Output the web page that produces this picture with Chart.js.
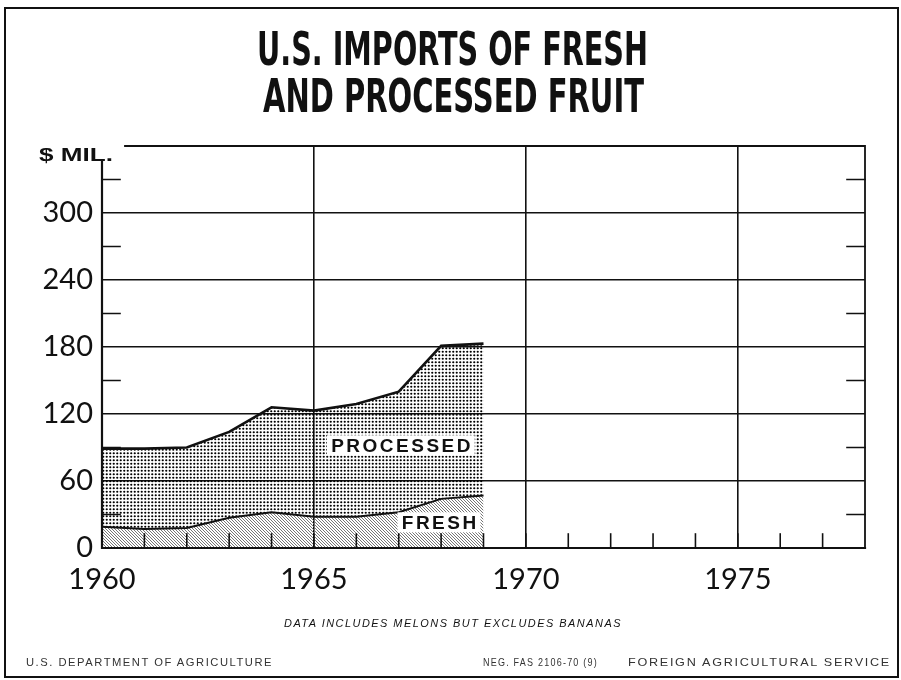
<!DOCTYPE html>
<html>
<head>
<meta charset="utf-8">
<title>U.S. Imports of Fresh and Processed Fruit</title>
<script src="https://cdn.jsdelivr.net/npm/chart.js@4"></script>
<style>
  html, body { margin: 0; padding: 0; background: #fff; }
  #page { position: relative; width: 901px; height: 680px; overflow: hidden; background: #fff; }
  #frame { position: absolute; left: 4px; top: 7px; width: 891px; height: 667px; border: 2px solid #111; }
  #chart { position: absolute; left: 0; top: 0; }
  .txt { position: absolute; white-space: nowrap; color: #111; transform-origin: 0 0; line-height: 1; }
  .title { font-family: "DejaVu Sans", sans-serif; font-weight: 700; font-size: 46px; }
  .unit { font-family: "Liberation Sans", sans-serif; font-weight: 700; font-size: 18px; }
  .note { font-family: "Liberation Sans", sans-serif; font-style: italic; font-size: 11px; letter-spacing: 1.5px; }
  .foot { font-family: "Liberation Sans", sans-serif; font-size: 11px; letter-spacing: 1.5px; color: #333; }
</style>
</head>
<body>
<div id="page">
  <canvas id="chart" width="901" height="680"></canvas>
  <div id="frame"></div>
  <div class="txt title" data-w="391" style="left:257px; top:26px;">U.S. IMPORTS OF FRESH</div>
  <div class="txt title" data-w="381" style="left:263px; top:73px;">AND PROCESSED FRUIT</div>
  <div class="txt unit" data-w="74" style="left:39px; top:146px;">$ MIL.</div>
  <div class="txt note" data-w="338" style="left:284px; top:618px;">DATA INCLUDES MELONS BUT EXCLUDES BANANAS</div>
  <div class="txt foot" data-w="247" style="left:26px; top:657px;">U.S. DEPARTMENT OF AGRICULTURE</div>
  <div class="txt foot" data-w="115" style="left:483px; top:657px;">NEG. FAS 2106-70 (9)</div>
  <div class="txt foot" data-w="263" style="left:628px; top:657px;">FOREIGN AGRICULTURAL SERVICE</div>
</div>
<script>
'use strict';

// $ million, stacked: fresh at the bottom, processed on top
const years = [1960, 1961, 1962, 1963, 1964, 1965, 1966, 1967, 1968, 1969];
const fresh = [19, 17, 18, 27, 32, 28, 28, 32, 44, 47];
const processed = [70, 72, 72, 77, 94, 95, 101, 108, 137, 136];

const yearLabels = [1960, 1965, 1970, 1975];
const valueLabels = [0, 60, 120, 180, 240, 300];
const X_MIN = 1960;
const X_MAX = 1978;
const Y_MAX = 360;
const AXIS_TOP = 347;

const INK = '#111';

function dotPattern() {
  const c = document.createElement('canvas');
  c.width = 7; c.height = 7;
  const g = c.getContext('2d');
  g.fillStyle = '#000';
  [[1.75, 1.75], [5.25, 1.75], [1.75, 5.25], [5.25, 5.25]].forEach(([cx, cy]) => {
    g.beginPath();
    g.arc(cx, cy, 1.1, 0, Math.PI * 2);
    g.fill();
  });
  return g.createPattern(c, 'repeat');
}

function hatchPattern() {
  const c = document.createElement('canvas');
  c.width = 3; c.height = 3;
  const g = c.getContext('2d');
  g.strokeStyle = '#666';
  g.lineWidth = 0.9;
  [-3, 0, 3].forEach(off => {
    g.beginPath();
    g.moveTo(off - 1, -1);
    g.lineTo(off + 4, 4);
    g.stroke();
  });
  return g.createPattern(c, 'repeat');
}

function points(values) {
  return years.map((year, i) => ({ x: year, y: values[i] }));
}

// axis lines, border and the short inward tick marks
const frameLines = {
  id: 'frameLines',
  afterDatasetsDraw(chart) {
    const { ctx, chartArea: a, scales: { x, y } } = chart;
    ctx.save();
    ctx.strokeStyle = INK;
    ctx.lineCap = 'square';

    ctx.lineWidth = 2.2;
    ctx.beginPath();
    ctx.moveTo(a.left, y.getPixelForValue(AXIS_TOP));
    ctx.lineTo(a.left, a.bottom);
    ctx.lineTo(a.right, a.bottom);
    ctx.stroke();

    ctx.lineWidth = 1.8;
    ctx.beginPath();
    ctx.moveTo(a.left + 23, a.top);
    ctx.lineTo(a.right, a.top);
    ctx.lineTo(a.right, a.bottom);
    ctx.stroke();

    // yearly ticks along the bottom
    ctx.lineWidth = 1.6;
    for (let yr = X_MIN + 1; yr < X_MAX; yr++) {
      const px = x.getPixelForValue(yr);
      ctx.beginPath();
      ctx.moveTo(px, a.bottom);
      ctx.lineTo(px, a.bottom - 14);
      ctx.stroke();
    }

    // half-step ticks on both sides
    for (let v = 30; v < Y_MAX; v += 60) {
      const py = y.getPixelForValue(v);
      ctx.beginPath();
      ctx.moveTo(a.left, py);
      ctx.lineTo(a.left + 18, py);
      ctx.moveTo(a.right, py);
      ctx.lineTo(a.right - 18, py);
      ctx.stroke();
    }
    ctx.restore();
  }
};

// series names written inside their bands
const bandLabels = {
  id: 'bandLabels',
  afterDraw(chart) {
    const { ctx, scales: { x, y } } = chart;
    const items = [
      { text: 'PROCESSED', xv: 1967.05, yv: 92 },
      { text: 'FRESH', xv: 1967.95, yv: 23 },
    ];
    ctx.save();
    ctx.font = 'bold 19px "Liberation Sans", sans-serif';
    ctx.letterSpacing = '2.5px';
    ctx.textAlign = 'center';
    ctx.textBaseline = 'middle';
    items.forEach(item => {
      const px = x.getPixelForValue(item.xv);
      const py = y.getPixelForValue(item.yv);
      const w = ctx.measureText(item.text).width;
      ctx.fillStyle = '#fff';
      ctx.fillRect(px - w / 2 - 3, py - 10, w + 6, 20);
      ctx.fillStyle = INK;
      ctx.fillText(item.text, px + 1.25, py + 1);
    });
    ctx.restore();
  }
};

function fitTexts() {
  document.querySelectorAll('.txt[data-w]').forEach(el => {
    const natural = el.getBoundingClientRect().width;
    el.style.transform = `scaleX(${Number(el.dataset.w) / natural})`;
  });
}

function drawChart() {
  const ctx = document.getElementById('chart').getContext('2d');
  const tickFont = { family: 'Lato, "Open Sans", sans-serif', size: 29 };
  new Chart(ctx, {
    type: 'line',
    data: {
      datasets: [
        {
          label: 'FRESH',
          data: points(fresh),
          fill: 'origin',
          backgroundColor: hatchPattern(),
          borderColor: INK,
          borderWidth: 2,
          pointRadius: 0,
          tension: 0,
        },
        {
          label: 'PROCESSED',
          data: points(processed),
          fill: '-1',
          backgroundColor: dotPattern(),
          borderColor: INK,
          borderWidth: 2.6,
          pointRadius: 0,
          tension: 0,
        },
      ],
    },
    options: {
      responsive: false,
      animation: false,
      events: [],
      layout: { padding: { left: 10, top: 146, right: 36, bottom: 0 } },
      plugins: { legend: { display: false }, tooltip: { enabled: false } },
      scales: {
        x: {
          type: 'linear',
          min: X_MIN,
          max: X_MAX,
          border: { display: false },
          grid: {
            drawTicks: false,
            lineWidth: 1.6,
            color: c => (yearLabels.includes(c.tick.value) && c.tick.value > X_MIN) ? INK : 'rgba(0,0,0,0)',
          },
          ticks: {
            stepSize: 1,
            autoSkip: false,
            maxRotation: 0,
            padding: 14,
            color: INK,
            font: tickFont,
            callback: v => yearLabels.includes(v) ? String(v) : '',
          },
          afterFit: scale => { scale.height = 132; },
        },
        y: {
          stacked: true,
          min: 0,
          max: Y_MAX,
          border: { display: false },
          grid: {
            drawTicks: false,
            lineWidth: 1.6,
            color: c => (valueLabels.includes(c.tick.value) && c.tick.value > 0) ? INK : 'rgba(0,0,0,0)',
          },
          ticks: {
            stepSize: 30,
            padding: 9,
            color: INK,
            font: tickFont,
            callback: v => valueLabels.includes(v) ? String(v) : '',
          },
          afterFit: scale => { scale.width = 92; },
        },
      },
    },
    plugins: [frameLines, bandLabels],
  });
}

document.fonts.ready.then(() => {
  fitTexts();
  drawChart();
});
</script>
</body>
</html>
